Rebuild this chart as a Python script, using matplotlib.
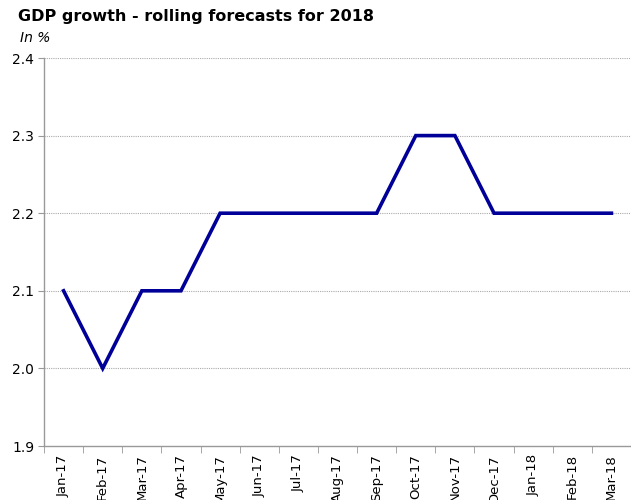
import matplotlib.pyplot as plt
import numpy as np

months = ['Jan-17', 'Feb-17', 'Mar-17', 'Apr-17', 'May-17', 'Jun-17', 'Jul-17',
          'Aug-17', 'Sep-17', 'Oct-17', 'Nov-17', 'Dec-17', 'Jan-18', 'Feb-18', 'Mar-18']
forecast = [2.1, 2.0, 2.1, 2.1, 2.2, 2.2, 2.2, 2.2, 2.2, 2.3, 2.3, 2.2, 2.2, 2.2, 2.2]
y_ticks = [1.9, 2.0, 2.1, 2.2, 2.3, 2.4]

fig = plt.figure(figsize=(6.31, 5.0), dpi=100)
ax = fig.add_axes([44 / 631, 54 / 500, 587 / 631, 388 / 500])

x = np.arange(len(months))
ax.plot(x, forecast, color='#000099', linewidth=2.6, solid_joinstyle='miter', zorder=3)

ax.set_xlim(-0.5, len(months) - 0.5)
ax.set_ylim(1.9, 2.4)
ax.set_yticks(y_ticks)
ax.set_yticklabels([f'{v:.1f}' for v in y_ticks], fontsize=10)
ax.set_xticks(x)
ax.set_xticklabels(months, rotation=90, fontsize=9.5)
ax.tick_params(axis='x', length=0, pad=6)
ax.set_xticks(np.arange(-0.5, len(months)), minor=True)
ax.tick_params(axis='x', which='minor', length=5, color='#999999', direction='out')
ax.tick_params(axis='y', length=4, color='#999999', direction='out', pad=3)

for v in y_ticks[1:]:
    ax.axhline(v, color='#aaaaaa', linestyle=(0, (1, 1)), linewidth=0.8, zorder=1)

for side in ['top', 'right']:
    ax.spines[side].set_visible(False)
for side in ['left', 'bottom']:
    ax.spines[side].set_color('#999999')
    ax.spines[side].set_linewidth(1.0)

fig.text(18 / 631, 1 - 17 / 500, 'GDP growth - rolling forecasts for 2018',
         fontsize=11.5, fontweight='bold', va='center', ha='left')
fig.text(20 / 631, 1 - 38 / 500, 'In %', fontsize=10, style='italic', va='center', ha='left')

fig.savefig('out.png', dpi=100)
